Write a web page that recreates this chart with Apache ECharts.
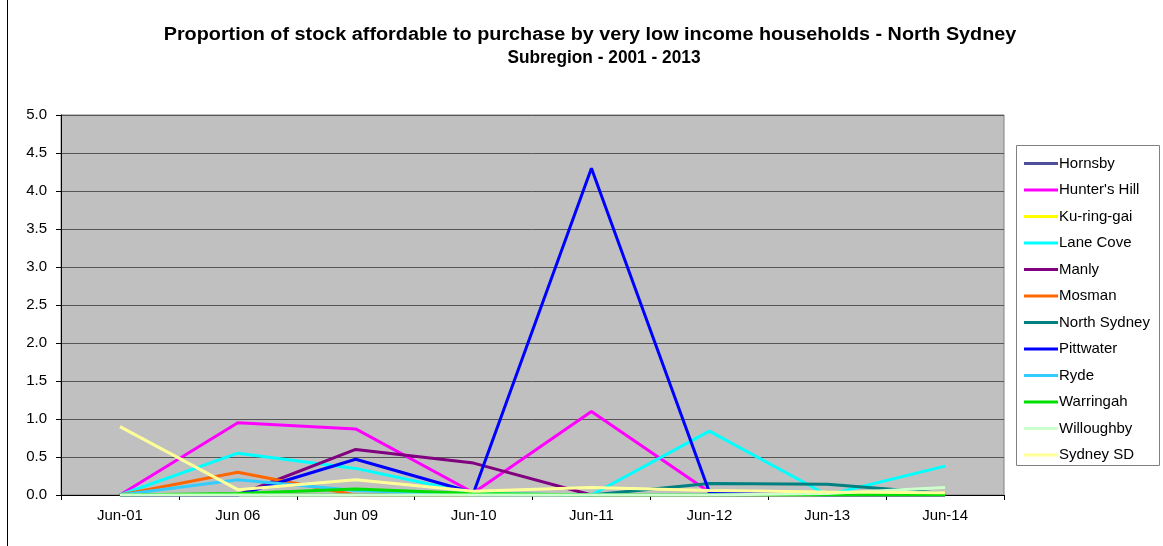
<!DOCTYPE html>
<html>
<head>
<meta charset="utf-8">
<script src="https://cdn.jsdelivr.net/npm/echarts@6/dist/echarts.min.js"></script>
<style>
  html, body { margin: 0; padding: 0; background: #fff; }
  #chart { width: 1163px; height: 546px; }
</style>
</head>
<body>
<div id="chart"></div>
<script>
// Survey dates along the horizontal axis
const categories = ['Jun-01', 'Jun 06', 'Jun 09', 'Jun-10', 'Jun-11', 'Jun-12', 'Jun-13', 'Jun-14'];

// Value axis ticks
const yTicks = [0, 0.5, 1, 1.5, 2, 2.5, 3, 3.5, 4, 4.5, 5];

// Proportion of stock affordable (%), one array per LGA
const hornsby      = [0, 0, 0, 0, 0, 0, 0, 0];
const huntersHill  = [0, 0.95, 0.87, 0.03, 1.1, 0.04, 0, 0];
const kuringgai    = [0, 0, 0, 0, 0, 0, 0, 0];
const laneCove     = [0, 0.55, 0.35, 0.02, 0, 0.84, 0, 0.38];
const manly        = [0, 0, 0.6, 0.42, 0, 0, 0, 0];
const mosman       = [0, 0.3, 0, 0, 0, 0, 0, 0];
const northSydney  = [0, 0, 0, 0, 0, 0.15, 0.14, 0.02];
const pittwater    = [0, 0, 0.47, 0.03, 4.3, 0.04, 0, 0];
const ryde         = [0, 0.2, 0.06, 0, 0, 0, 0, 0];
const warringah    = [0, 0.02, 0.08, 0.02, 0, 0, 0, 0];
const willoughby   = [0, 0, 0, 0, 0, 0, 0.02, 0.1];
const sydneySD     = [0.9, 0.07, 0.2, 0.05, 0.1, 0.06, 0.04, 0.03];

const seriesNames = ['Hornsby', "Hunter's Hill", 'Ku-ring-gai', 'Lane Cove', 'Manly', 'Mosman',
  'North Sydney', 'Pittwater', 'Ryde', 'Warringah', 'Willoughby', 'Sydney SD'];
const seriesValues = [hornsby, huntersHill, kuringgai, laneCove, manly, mosman,
  northSydney, pittwater, ryde, warringah, willoughby, sydneySD];
const seriesColors = ['#4F4F99', '#FF00FF', '#FFFF00', '#00FFFF', '#800080', '#FF6600',
  '#008080', '#0000FF', '#33CCFF', '#00E000', '#CCFFCC', '#FFFF99'];

const FONT = '"Liberation Sans", Arial, sans-serif';

const chart = echarts.init(document.getElementById('chart'), null, { renderer: 'canvas' });

chart.setOption({
  animation: false,
  backgroundColor: '#ffffff',
  graphic: [
    { type: 'line', shape: { x1: 7.5, y1: 0, x2: 7.5, y2: 546 }, style: { stroke: '#000', lineWidth: 1 }, z: 0 },
    { type: 'text', x: 590, y: 35, scaleX: 1.1, originX: 0, originY: 0, style: {
        text: 'Proportion of stock affordable to purchase by very low income households - North Sydney',
        font: 'bold 18px ' + FONT, fill: '#000', align: 'center', verticalAlign: 'middle' } },
    { type: 'text', x: 604, y: 58, scaleX: 0.96, originX: 0, originY: 0, style: {
        text: 'Subregion - 2001 - 2013',
        font: 'bold 18px ' + FONT, fill: '#000', align: 'center', verticalAlign: 'middle' } },
    { type: 'rect', shape: { x: 1016.5, y: 145.5, width: 143, height: 320 },
      style: { fill: '#fff', stroke: '#808080', lineWidth: 1 }, z: 0 }
  ],
  legend: {
    orient: 'vertical',
    left: 1024,
    top: 156,
    padding: 0,
    icon: 'rect',
    itemWidth: 34,
    itemHeight: 3,
    itemGap: 11.5,
    selectedMode: false,
    z: 5,
    textStyle: { fontFamily: FONT, fontSize: 15, color: '#000', lineHeight: 14, padding: [0, 0, 0, -4] },
    data: seriesNames
  },
  grid: {
    left: 61, right: 159, top: 115, bottom: 51,
    show: true, backgroundColor: '#C0C0C0', borderColor: '#808080', borderWidth: 1
  },
  xAxis: {
    type: 'category',
    data: categories,
    boundaryGap: true,
    axisLine: { lineStyle: { color: '#000', width: 1 } },
    axisTick: { show: true, interval: 0, length: 5, lineStyle: { color: '#000' } },
    axisLabel: { fontFamily: FONT, fontSize: 15, color: '#000', margin: 13, interval: 0 }
  },
  yAxis: {
    type: 'value',
    min: yTicks[0],
    max: yTicks[yTicks.length - 1],
    interval: yTicks[1] - yTicks[0],
    axisLine: { show: true, lineStyle: { color: '#000', width: 1 } },
    axisTick: { show: true, length: 5, lineStyle: { color: '#000' } },
    axisLabel: { fontFamily: FONT, fontSize: 15, color: '#000', margin: 14,
      formatter: v => v.toFixed(1) },
    splitLine: { show: true, lineStyle: { color: '#555555', width: 1 } }
  },
  series: seriesNames.map((name, i) => ({
    name: name,
    type: 'line',
    data: seriesValues[i],
    color: seriesColors[i],
    symbol: 'none',
    lineStyle: { width: 3, color: seriesColors[i] },
    itemStyle: { color: seriesColors[i] },
    emphasis: { disabled: true }
  }))
});
</script>
</body>
</html>
